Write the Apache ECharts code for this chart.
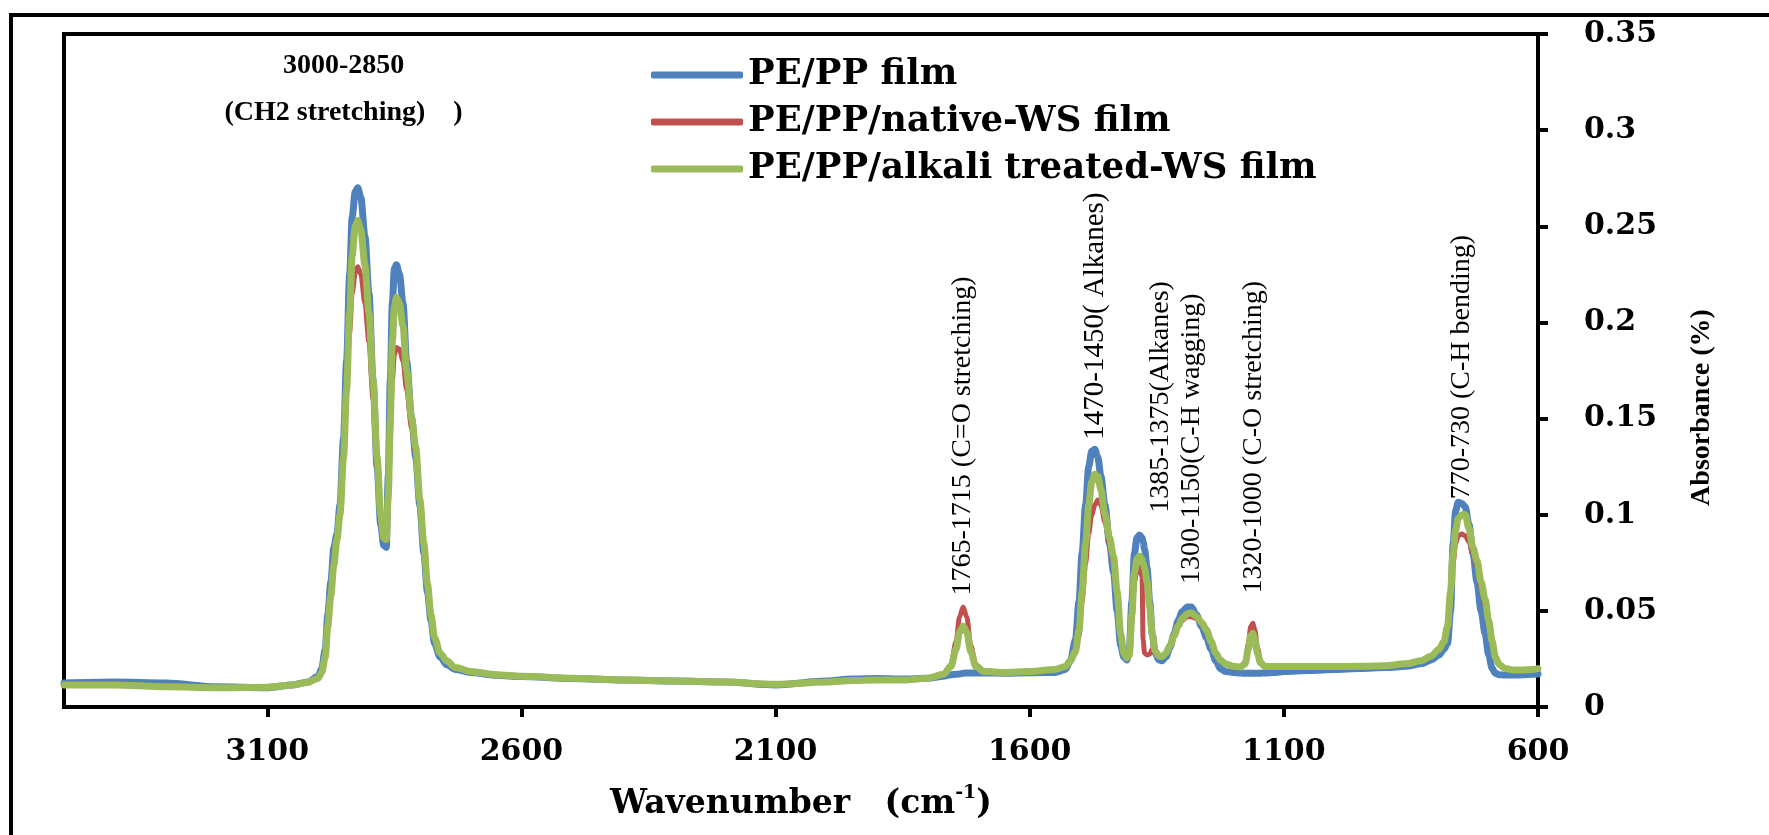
<!DOCTYPE html>
<html>
<head>
<meta charset="utf-8">
<script src="https://cdn.jsdelivr.net/npm/echarts@6/dist/echarts.min.js"></script>
<style>html,body{margin:0;padding:0;background:#fff;}#chart{width:1769px;height:835px;}</style>
</head>
<body>
<div id="chart"></div>
<script>
// Wavenumber (cm-1)
const wavenumber = [3500,3400,3300,3200,3100,3050,3020,3000,2993,2986,2981,2975,2969,2963,2957,2950,2944,2938,2933,2927,2922,2916,2908,2900,2892,2884,2877,2871,2866,2862,2858,2854,2850,2846,2840,2833,2826,2816,2808,2800,2792,2785,2778,2771,2760,2747,2730,2700,2650,2600,2500,2400,2300,2200,2100,2000,1950,1900,1850,1800,1770,1755,1745,1738,1731,1724,1716,1706,1690,1650,1600,1550,1530,1520,1510,1503,1497,1490,1484,1478,1472,1466,1460,1452,1443,1435,1428,1421,1415,1409,1404,1399,1394,1389,1384,1379,1377,1374,1369,1364,1359,1353,1346,1340,1332,1324,1316,1308,1300,1290,1282,1272,1262,1252,1243,1234,1225,1215,1200,1185,1176,1170,1165,1161,1157,1152,1146,1138,1120,1100,1050,1000,950,900,860,830,810,795,785,778,772,767,762,757,750,743,736,728,720,712,704,697,690,684,676,665,650,630,612,600];
// PE/PP film (blue)
const pePP = [.0125,.0130,.0125,.0105,.0100,.0115,.0130,.0160,.0200,.0300,.0480,.0650,.0830,.0900,.1050,.1400,.1800,.2250,.2550,.2680,.2700,.2650,.2450,.2150,.1700,.1250,.0950,.0840,.0830,.1200,.1700,.2100,.2280,.2300,.2250,.2100,.1800,.1500,.1300,.1050,.0800,.0600,.0450,.0330,.0260,.0220,.0195,.0180,.0165,.0158,.0148,.0140,.0135,.0130,.0115,.0135,.0145,.0148,.0145,.0150,.0160,.0168,.0170,.0172,.0175,.0177,.0177,.0177,.0177,.0176,.0178,.0180,.0195,.0240,.0350,.0550,.0800,.1050,.1250,.1330,.1340,.1300,.1200,.1050,.0850,.0700,.0500,.0320,.0260,.0245,.0300,.0550,.0800,.0880,.0895,.0880,.0860,.0820,.0720,.0550,.0380,.0280,.0245,.0240,.0260,.0310,.0380,.0450,.0495,.0520,.0520,.0480,.0420,.0360,.0300,.0240,.0200,.0185,.0180,.0177,.0175,.0175,.0175,.0175,.0175,.0175,.0176,.0177,.0180,.0185,.0190,.0195,.0200,.0205,.0212,.0225,.0245,.0270,.0300,.0330,.0500,.0850,.1020,.1065,.1060,.1040,.0950,.0800,.0650,.0500,.0380,.0270,.0200,.0175,.0168,.0166,.0166,.0168,.0170,.0172];
// PE/PP/native-WS film (red)
const nativeWS = [.0118,.0120,.0110,.0100,.0102,.0115,.0128,.0150,.0180,.0260,.0420,.0580,.0740,.0870,.1000,.1300,.1630,.1950,.2150,.2260,.2290,.2250,.2100,.1900,.1600,.1250,.1000,.0880,.0870,.1050,.1400,.1700,.1830,.1870,.1860,.1800,.1650,.1450,.1320,.1070,.0840,.0630,.0480,.0360,.0280,.0240,.0205,.0185,.0168,.0160,.0150,.0140,.0135,.0130,.0118,.0130,.0138,.0140,.0140,.0150,.0170,.0220,.0340,.0470,.0520,.0470,.0320,.0220,.0188,.0180,.0185,.0195,.0210,.0240,.0280,.0370,.0550,.0750,.0900,.1000,.1050,.1076,.1050,.0960,.0850,.0750,.0580,.0370,.0280,.0255,.0270,.0450,.0650,.0710,.0730,.0680,.0350,.0280,.0270,.0275,.0300,.0280,.0265,.0262,.0280,.0320,.0370,.0420,.0450,.0470,.0470,.0460,.0435,.0390,.0340,.0280,.0245,.0225,.0212,.0210,.0235,.0330,.0420,.0435,.0400,.0310,.0240,.0215,.0210,.0210,.0210,.0210,.0212,.0215,.0225,.0240,.0265,.0300,.0340,.0400,.0550,.0750,.0850,.0890,.0900,.0890,.0860,.0800,.0730,.0620,.0530,.0430,.0330,.0260,.0220,.0200,.0193,.0192,.0195,.0200];
// PE/PP/alkali treated-WS film (green)
const alkaliWS = [.0115,.0115,.0105,.0100,.0103,.0115,.0128,.0150,.0180,.0260,.0420,.0580,.0740,.0870,.1000,.1300,.1650,.2050,.2350,.2500,.2530,.2480,.2300,.2050,.1700,.1300,.1000,.0880,.0870,.1100,.1500,.1900,.2080,.2130,.2100,.1980,.1750,.1500,.1350,.1080,.0850,.0640,.0480,.0360,.0280,.0240,.0205,.0185,.0168,.0160,.0150,.0140,.0135,.0130,.0118,.0130,.0138,.0140,.0140,.0150,.0170,.0210,.0300,.0390,.0420,.0390,.0290,.0210,.0185,.0180,.0185,.0195,.0210,.0240,.0290,.0400,.0600,.0850,.1050,.1170,.1210,.1200,.1130,.1000,.0880,.0780,.0600,.0380,.0280,.0255,.0270,.0480,.0700,.0770,.0785,.0770,.0750,.0720,.0650,.0520,.0380,.0290,.0265,.0262,.0280,.0320,.0370,.0420,.0460,.0485,.0490,.0470,.0440,.0400,.0340,.0280,.0245,.0225,.0212,.0208,.0225,.0300,.0370,.0383,.0350,.0280,.0230,.0212,.0210,.0210,.0210,.0210,.0212,.0215,.0225,.0240,.0265,.0300,.0340,.0420,.0600,.0800,.0920,.0980,.1000,.1000,.0930,.0830,.0760,.0650,.0560,.0450,.0340,.0260,.0220,.0200,.0193,.0192,.0195,.0200];

const seriesNames = ['PE/PP film', 'PE/PP/native-WS film', 'PE/PP/alkali treated-WS film'];
const seriesColors = ['#4F81BD', '#C0504D', '#9BBB59'];
const seriesValues = [pePP, nativeWS, alkaliWS];
const seriesWidths = [7, 5, 7];

const xTickValues = [3100, 2600, 2100, 1600, 1100, 600];

// band annotations: anchor = start of the (vertical) text, in data units
const bandText = ['1765-1715 (C=O stretching)', '1470-1450( Alkanes)', '1385-1375(Alkanes)', '1300-1150(C-H wagging)', '1320-1000 (C-O stretching)', '770-730 (C-H bending)'];
const bandX = [1732, 1471, 1343, 1281, 1160, 751];
const bandY = [0.058, 0.139, 0.101, 0.064, 0.059, 0.108];
const bandSize = [28, 29, 28, 28, 28, 28];
const ch2Text = '3000-2850\n(CH2 stretching)    )';
const ch2X = 2950, ch2Y = 0.3214;

const chart = echarts.init(document.getElementById('chart'), null, {renderer: 'canvas'});
const boldWide = {fontFamily: 'DejaVu Serif', fontWeight: 'bold', color: '#000'};

const lineSeries = seriesNames.map((n, k) => ({
  name: n,
  type: 'line',
  data: wavenumber.map((w, i) => [w, seriesValues[k][i]]),
  showSymbol: false,
  smooth: 0.3,
  smoothMonotone: 'x',
  lineStyle: {color: seriesColors[k], width: seriesWidths[k], cap: 'round', join: 'round'},
  itemStyle: {color: seriesColors[k]},
  z: 2 + k
}));

const annoData = bandText.map((t, i) => ({value: [bandX[i], bandY[i]], name: t, label: {fontSize: bandSize[i]}}));
annoData.push({
  value: [ch2X, ch2Y], name: ch2Text,
  label: {rotate: 0, align: 'center', verticalAlign: 'middle', fontFamily: 'Liberation Serif', fontWeight: 'bold', fontSize: 28, lineHeight: 47, color: '#000'}
});

const option = {
  animation: false,
  backgroundColor: '#fff',
  grid: {left: 64, right: 231, top: 34, bottom: 128, show: true, borderColor: '#000', borderWidth: 4, backgroundColor: 'transparent'},
  legend: {
    orient: 'vertical', left: 646, top: 52, itemWidth: 92, itemHeight: 7, itemGap: 11,
    icon: 'roundRect', data: seriesNames,
    textStyle: Object.assign({fontSize: 35.5}, boldWide)
  },
  xAxis: {
    type: 'value', inverse: true, min: 600, max: 3500, interval: 500,
    name: '{a|Wavenumber   (cm}{s|-1}{a|)}',
    nameLocation: 'middle', nameGap: 77,
    nameTextStyle: {rich: {
      a: Object.assign({fontSize: 33, lineHeight: 40}, boldWide),
      s: Object.assign({fontSize: 19, lineHeight: 40, verticalAlign: 'top'}, boldWide)
    }},
    axisLine: {onZero: false, lineStyle: {color: '#000', width: 4}},
    axisTick: {show: true, length: 10, lineStyle: {color: '#000', width: 4}, customValues: xTickValues},
    axisLabel: Object.assign({fontSize: 30, margin: 30, customValues: xTickValues, formatter: v => String(v)}, boldWide),
    splitLine: {show: false}
  },
  yAxis: {
    type: 'value', position: 'right', min: 0, max: 0.35, interval: 0.05,
    name: 'Absorbance (%)', nameLocation: 'middle', nameRotate: 90, nameGap: 150,
    nameTextStyle: {fontFamily: 'Liberation Serif', fontWeight: 'bold', fontSize: 28, color: '#000', padding: [0, 74, 0, 0]},
    axisLine: {show: true, lineStyle: {color: '#000', width: 4}},
    axisTick: {show: true, length: 10, lineStyle: {color: '#000', width: 4}},
    axisLabel: Object.assign({fontSize: 30, margin: 46, align: 'left'}, boldWide),
    splitLine: {show: false}
  },
  graphic: [{
    type: 'rect', silent: true, z: 100,
    shape: {x: 11, y: 15, width: 1800, height: 1000},
    style: {fill: 'none', stroke: '#000', lineWidth: 4}
  }],
  series: lineSeries.concat([{
    name: 'annotations', type: 'scatter', silent: true, symbolSize: 0, z: 10,
    itemStyle: {opacity: 1},
    data: annoData,
    label: {
      show: true, position: 'inside', formatter: p => p.name,
      rotate: 90, align: 'left', verticalAlign: 'middle',
      fontFamily: 'Liberation Serif', fontSize: 28, color: '#000', opacity: 1
    }
  }])
};
chart.setOption(option);
</script>
</body>
</html>
